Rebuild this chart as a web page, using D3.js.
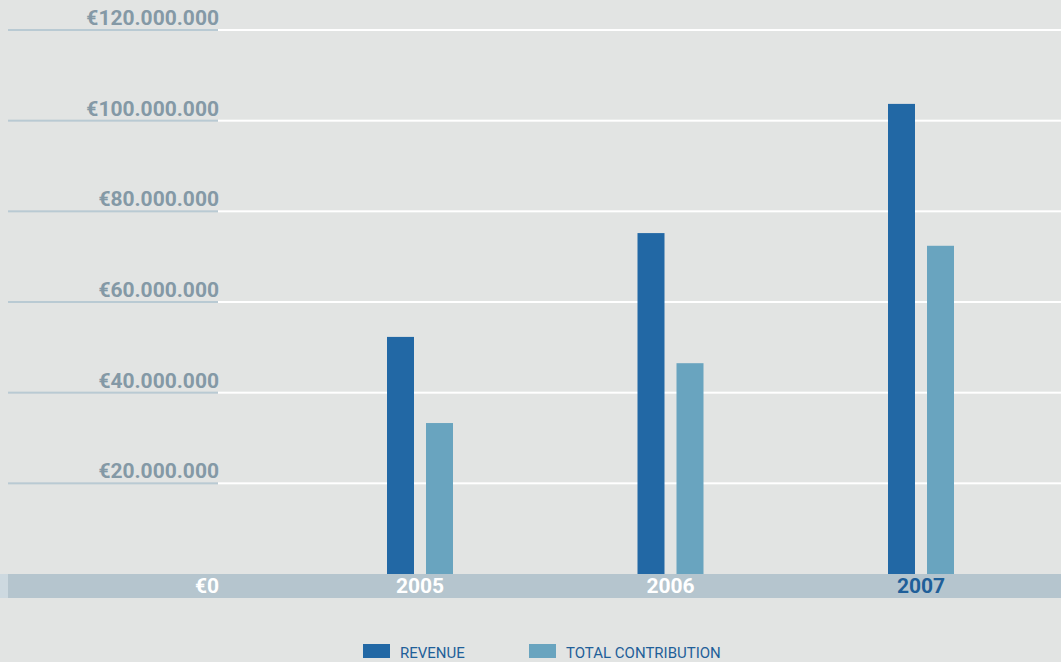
<!DOCTYPE html>
<html>
<head>
<meta charset="utf-8">
<script src="https://d3js.org/d3.v7.min.js"></script>
<style>
body { margin: 0; background: #e2e4e3; }
text { font-family: Roboto, "Open Sans", "DejaVu Sans", sans-serif; }
</style>
</head>
<body>
<script>
var w = 1061;
var h = 662;

var years = ["2005", "2006", "2007"];
var series = ["REVENUE", "TOTAL CONTRIBUTION"];
var revenue = [52300000, 75200000, 103700000];
var contribution = [33300000, 46500000, 72400000];
var yTicks = [0, 20000000, 40000000, 60000000, 80000000, 100000000, 120000000];
var colors = ["#2268a5", "#69a4bf"];

var svg = d3.select("body")
    .append("svg")
    .attr("width", w)
    .attr("height", h)

svg.append("rect")
    .attr("width", w)
    .attr("height", h)
    .attr("fill", "#e2e4e3")

var y = d3.scaleLinear().domain([0, 120000000]).range([574, 30]);
var x = d3.scaleBand().domain(years).range([294.75, 1046.25]);
var xs = d3.scaleBand().domain(series).range([-33, 33]).paddingInner(12 / 39);

var loc = d3.formatLocale({decimal: ",", thousands: ".", grouping: [3], currency: ["€", ""]});
var fmt = loc.format("$,.0f");

// gridlines: grey-blue under the labels, white across the plot
yTicks.slice(1).forEach(function(t) {
    svg.append("rect")
        .attr("x", 8).attr("y", y(t) - 1)
        .attr("width", 210).attr("height", 2)
        .attr("fill", "#b9cad3")
    svg.append("rect")
        .attr("x", 218).attr("y", y(t) - 1)
        .attr("width", w - 218).attr("height", 2)
        .attr("fill", "#ffffff")
    svg.append("text")
        .attr("x", 219).attr("y", y(t) - 5)
        .attr("text-anchor", "end")
        .attr("font-size", 21)
        .attr("font-weight", "bold")
        .attr("fill", "#8499a6")
        .text(fmt(t))
});

// axis band
svg.append("rect")
    .attr("x", 0).attr("y", y(0))
    .attr("width", 8).attr("height", 24)
    .attr("fill", "#cdd9e0")
svg.append("rect")
    .attr("x", 8).attr("y", y(0))
    .attr("width", w - 8).attr("height", 24)
    .attr("fill", "#b5c5ce")

svg.append("text")
    .attr("x", 219).attr("y", y(0) + 19)
    .attr("text-anchor", "end")
    .attr("font-size", 21)
    .attr("font-weight", "bold")
    .attr("fill", "#ffffff")
    .text(fmt(0))

svg.selectAll(".year")
    .data(years)
    .enter().append("text")
    .attr("x", function(d) { return x(d) + x.bandwidth() / 2; })
    .attr("y", y(0) + 19)
    .attr("text-anchor", "middle")
    .attr("font-size", 21)
    .attr("font-weight", "bold")
    .attr("fill", function(d, i) { return i == years.length - 1 ? "#1f5f99" : "#ffffff"; })
    .text(function(d) { return d; })

// bars
var rows = years.map(function(yr, i) {
    return [{year: yr, s: series[0], v: revenue[i]}, {year: yr, s: series[1], v: contribution[i]}];
});

svg.selectAll(".grp")
    .data(rows)
    .enter().append("g")
    .attr("transform", function(d) { return "translate(" + (x(d[0].year) + x.bandwidth() / 2) + ",0)"; })
    .selectAll("rect")
    .data(function(d) { return d; })
    .enter().append("rect")
    .attr("x", function(d) { return xs(d.s); })
    .attr("y", function(d) { return y(d.v); })
    .attr("width", xs.bandwidth())
    .attr("height", function(d) { return y(0) - y(d.v); })
    .attr("fill", function(d, i) { return colors[i]; })

// legend
var legX = [363, 529];
series.forEach(function(s, i) {
    svg.append("rect")
        .attr("x", legX[i]).attr("y", 644)
        .attr("width", 27).attr("height", 14)
        .attr("fill", colors[i])
    svg.append("text")
        .attr("x", legX[i] + 37).attr("y", 658)
        .attr("font-size", 15)
        .attr("font-family", "'Liberation Sans Narrow', 'DejaVu Sans Condensed', Roboto, sans-serif")
        .attr("fill", "#1f5f99")
        .text(s)
});
</script>
</body>
</html>
